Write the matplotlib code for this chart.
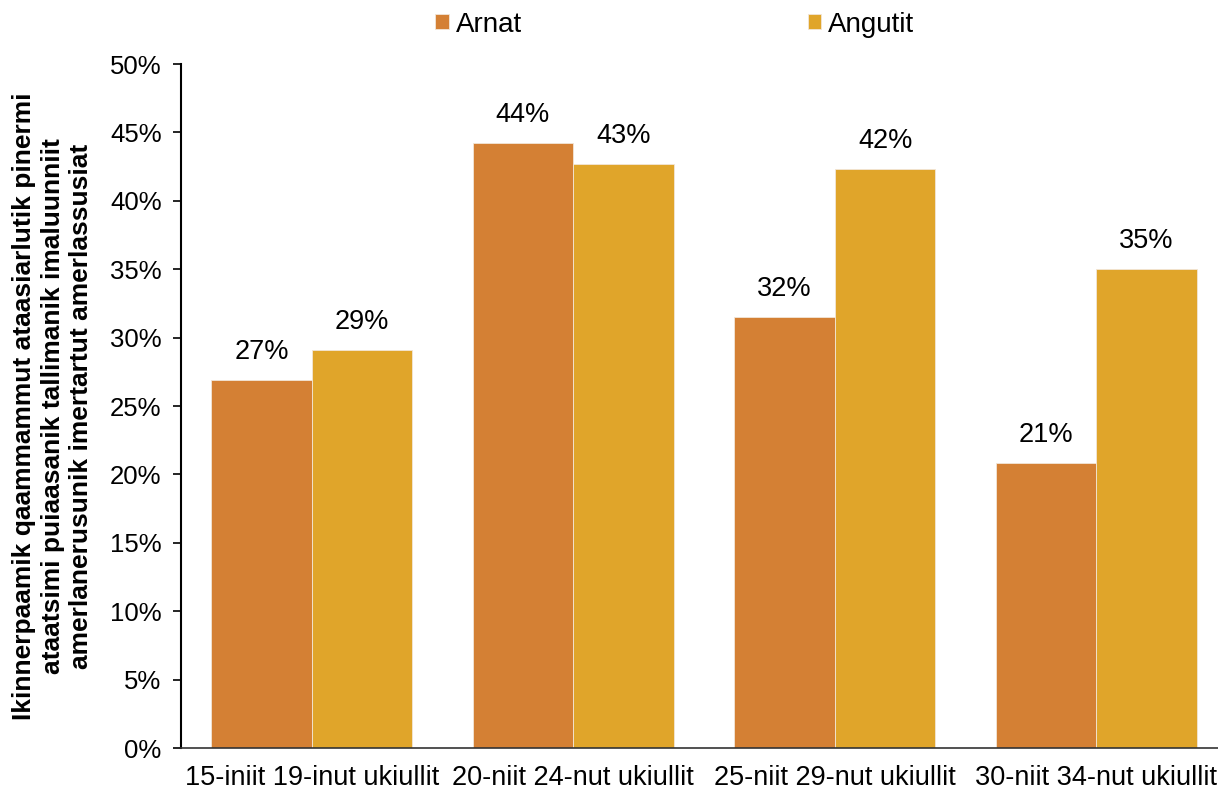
import numpy as np
import matplotlib.pyplot as plt
from matplotlib.ticker import PercentFormatter

plt.rcParams['font.family'] = ['Liberation Sans', 'DejaVu Sans']

# data
categories = ['15-iniit 19-inut ukiullit', '20-niit 24-nut ukiullit',
              '25-niit 29-nut ukiullit', '30-niit 34-nut ukiullit']
arnat = [26.9, 44.2, 31.5, 20.8]
angutit = [29.1, 42.7, 42.3, 35.0]
series_names = ['Arnat', 'Angutit']
colors = ['#D48034', '#E0A52A']

fig = plt.figure(figsize=(12.18, 7.91), dpi=100)
# axis goes a bit beyond the right edge, like the reference
ax = fig.add_axes([181/1218, 43/791, 1046/1218, 684/791])

x = np.arange(len(categories))
w = 0.385
b1 = ax.bar(x - w/2, arnat, w, color=colors[0], edgecolor='#F2E6D8', linewidth=0.6, label=series_names[0])
b2 = ax.bar(x + w/2, angutit, w, color=colors[1], edgecolor='#F2E6D8', linewidth=0.6, label=series_names[1])

for bars in (b1, b2):
    for r in bars:
        v = r.get_height()
        ax.text(r.get_x() + r.get_width()/2, v + 1.1, f'{v:.0f}%', ha='center', va='bottom', fontsize=19.5)

ax.set_ylim(0, 50)
ax.set_xlim(-0.5, 3.5)
ax.set_yticks(np.arange(0, 51, 5))
ax.yaxis.set_major_formatter(PercentFormatter(decimals=0))
ax.set_xticks(x)
ax.set_xticklabels(categories)
ax.tick_params(axis='y', labelsize=18.5, length=6, width=1.2, direction='out', pad=8)
ax.tick_params(axis='x', labelsize=19.5, length=0, pad=12)

for s in ['top', 'right']:
    ax.spines[s].set_visible(False)
ax.spines['left'].set_linewidth(1.5)
ax.spines['bottom'].set_linewidth(1.2)
ax.spines['bottom'].set_color('#333333')

ax.set_ylabel('Ikinnerpaamik qaammammut ataasiarlutik pinermi\nataatsimi puiaasanik tallimanik imaluunniit\namerlanerusunik imertartut amerlassusiat',
              fontsize=19, fontweight='bold', linespacing=1.25, labelpad=12)

leg = fig.legend(handles=[b1, b2], labels=series_names, loc='upper center',
                 bbox_to_anchor=(0.554, 1.017), ncol=2, frameon=False, fontsize=20,
                 handlelength=0.48, handleheight=0.48, handletextpad=0.25, columnspacing=10.3)

fig.savefig('out.png', dpi=100)
